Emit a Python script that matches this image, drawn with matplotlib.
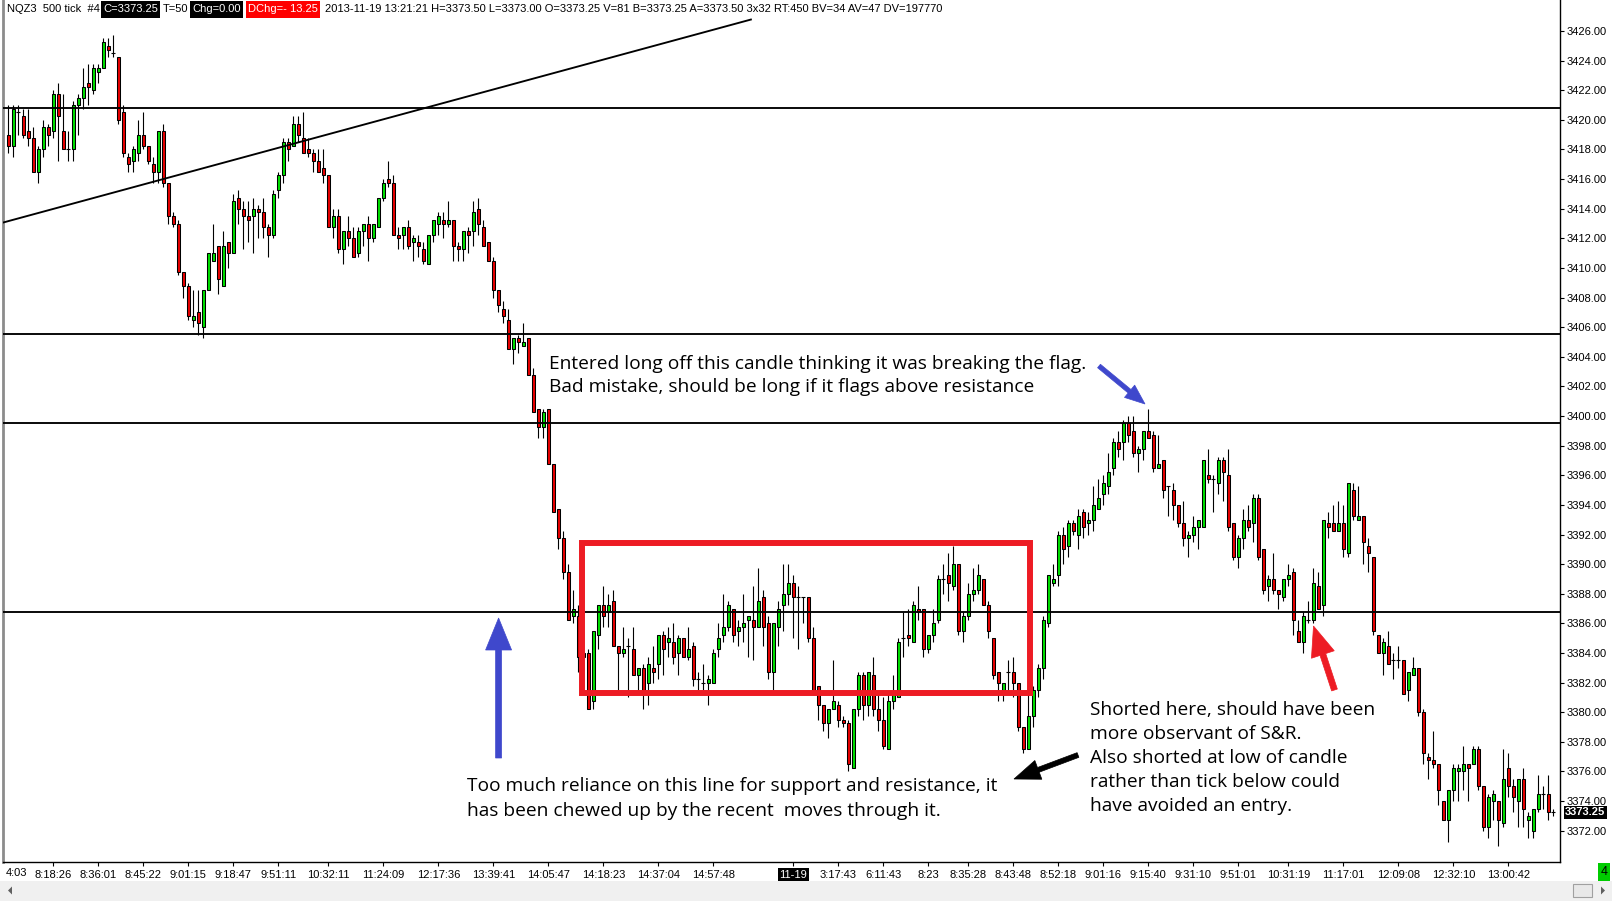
import numpy as np
import matplotlib
matplotlib.use("Agg")
import matplotlib.pyplot as plt
from matplotlib import patches, font_manager
from matplotlib.transforms import blended_transform_factory

W, H, DPI = 1612, 901, 100

opens = [
 3419.0, 3418.25, 3420.5, 3420.25, 3419.25, 3418.75, 3416.5, 3418.0, 3419.5, 3419.25,
 3421.75, 3419.25, 3418.0, 3418.0, 3421.0, 3421.5, 3422.5, 3422.0, 3423.25, 3423.5,
 3425.0, 3424.5, 3424.25, 3420.5, 3417.5, 3417.25, 3417.75, 3419.0, 3418.25, 3417.0,
 3416.5, 3419.25, 3415.75, 3413.5, 3413.0, 3409.75, 3408.75, 3406.5, 3407.0, 3406.0,
 3408.5, 3410.5, 3411.5, 3408.75, 3411.75, 3411.0, 3414.75, 3414.0, 3413.5, 3413.5,
 3414.0, 3413.75, 3412.75, 3412.25, 3415.25, 3416.25, 3418.5, 3418.25, 3419.75, 3418.75,
 3418.0, 3417.75, 3417.25, 3416.75, 3416.25, 3412.75, 3413.5, 3411.25, 3412.5, 3412.0,
 3411.0, 3412.5, 3413.0, 3412.0, 3412.75, 3414.75, 3416.0, 3415.75, 3412.25, 3412.25,
 3412.75, 3411.75, 3411.75, 3411.25, 3410.25, 3412.25, 3413.0, 3413.25, 3413.0, 3413.25,
 3411.5, 3411.25, 3412.5, 3412.5, 3414.0, 3412.75, 3411.75, 3410.5, 3408.5, 3407.25,
 3406.5, 3404.5, 3405.25, 3404.75, 3405.25, 3402.75, 3400.5, 3399.25, 3400.5, 3396.75,
 3393.75, 3391.75, 3389.5, 3386.5, 3386.5, 3383.75, 3384.0, 3380.75, 3385.25, 3387.25,
 3386.75, 3387.5, 3384.5, 3384.0, 3384.5, 3384.25, 3382.5, 3383.0, 3382.0, 3383.0,
 3383.25, 3385.25, 3384.75, 3384.75, 3384.0, 3385.0, 3383.75, 3384.5, 3382.25, 3382.0,
 3382.0, 3382.0, 3384.25, 3385.25, 3385.75, 3387.0, 3385.5, 3385.75, 3386.25, 3386.25,
 3385.75, 3387.75, 3386.0, 3382.75, 3385.75, 3387.25, 3388.0, 3388.75, 3387.75, 3387.75,
 3387.75, 3385.0, 3381.75, 3380.5, 3379.25, 3380.25, 3380.5, 3379.5, 3379.25, 3376.25,
 3380.25, 3382.5, 3380.5, 3382.5, 3380.25, 3379.5, 3377.5, 3380.75, 3381.0, 3385.0,
 3385.25, 3384.75, 3387.0, 3387.0, 3384.25, 3385.25, 3386.25, 3389.0, 3389.25, 3388.5,
 3390.0, 3385.5, 3386.5, 3388.0, 3388.25, 3389.0, 3387.25, 3385.0, 3382.75, 3381.5,
 3382.75, 3382.75, 3382.0, 3379.0, 3377.5, 3379.75, 3381.5, 3383.0, 3386.0, 3388.75,
 3389.25, 3392.0, 3391.25, 3392.75, 3392.0, 3393.5, 3392.75, 3393.0, 3393.75, 3394.75,
 3395.25, 3396.5, 3398.25, 3398.25, 3399.5, 3399.0, 3397.5, 3397.75, 3399.0, 3398.75,
 3396.5, 3397.0, 3395.25, 3395.0, 3394.0, 3392.75, 3391.75, 3392.0, 3392.5, 3392.5,
 3396.0, 3395.75, 3395.5, 3397.0, 3396.0, 3392.75, 3390.5, 3391.75, 3393.0, 3392.75,
 3394.5, 3391.0, 3388.5, 3389.0, 3388.25, 3387.75, 3389.0, 3389.5, 3385.5, 3384.75,
 3386.25, 3386.25, 3388.5, 3387.25, 3392.75, 3392.75, 3392.25, 3392.75, 3390.75, 3395.0,
 3393.0, 3393.25, 3391.25, 3390.5, 3385.25, 3384.0, 3384.5, 3383.5, 3383.5, 3383.5,
 3381.5, 3382.5, 3383.0, 3380.0, 3377.0, 3376.75, 3376.5, 3374.0, 3372.75, 3374.75,
 3376.0, 3376.0, 3376.5, 3376.5, 3377.5, 3375.0, 3372.25, 3374.0, 3374.0, 3372.5,
 3376.25, 3375.0, 3374.0, 3375.5, 3372.75, 3372.0, 3373.5, 3374.5, 3374.5, 3373.25]

highs = [
 3421.0, 3421.0, 3421.0, 3420.75, 3420.75, 3419.5, 3418.25, 3420.0, 3419.75, 3422.0,
 3422.5, 3421.75, 3419.25, 3421.25, 3421.75, 3423.5, 3423.75, 3423.75, 3423.75, 3425.5,
 3425.5, 3425.75, 3424.25, 3421.0, 3417.75, 3418.25, 3420.0, 3420.5, 3418.25, 3417.5,
 3419.25, 3419.75, 3415.75, 3413.75, 3413.25, 3409.75, 3409.0, 3408.5, 3408.5, 3408.5,
 3411.0, 3413.0, 3411.5, 3412.5, 3411.75, 3415.0, 3415.25, 3414.5, 3414.5, 3414.75,
 3414.25, 3414.75, 3413.0, 3415.25, 3416.5, 3418.75, 3418.75, 3420.25, 3420.25, 3420.5,
 3418.75, 3418.0, 3418.0, 3418.0, 3416.25, 3414.0, 3414.0, 3412.5, 3413.5, 3412.75,
 3412.75, 3413.0, 3413.5, 3413.0, 3414.75, 3416.0, 3417.25, 3416.25, 3412.75, 3412.75,
 3413.25, 3412.25, 3412.25, 3411.75, 3412.25, 3413.25, 3413.75, 3413.75, 3414.5, 3413.25,
 3411.75, 3412.5, 3412.75, 3414.5, 3414.75, 3413.25, 3411.75, 3410.75, 3408.5, 3407.75,
 3407.25, 3405.25, 3405.5, 3406.25, 3405.25, 3403.25, 3400.5, 3400.5, 3400.5, 3396.75,
 3393.75, 3392.25, 3390.0, 3388.25, 3387.25, 3384.25, 3384.25, 3385.5, 3387.25, 3388.5,
 3388.0, 3388.25, 3384.5, 3385.75, 3385.0, 3385.75, 3383.0, 3383.25, 3383.75, 3384.5,
 3385.25, 3385.5, 3385.75, 3386.0, 3385.25, 3385.0, 3385.75, 3384.75, 3382.75, 3383.25,
 3382.5, 3384.25, 3386.0, 3388.0, 3387.5, 3387.0, 3386.25, 3388.0, 3386.5, 3388.5,
 3389.75, 3388.25, 3386.5, 3386.0, 3387.5, 3390.0, 3390.0, 3389.25, 3388.5, 3387.75,
 3387.75, 3385.75, 3381.75, 3380.5, 3380.25, 3383.5, 3380.75, 3379.75, 3379.5, 3380.25,
 3382.75, 3382.75, 3382.75, 3383.75, 3381.25, 3381.0, 3381.25, 3382.5, 3385.0, 3386.75,
 3387.0, 3387.5, 3388.5, 3387.0, 3385.25, 3387.0, 3389.25, 3390.0, 3390.75, 3391.25,
 3390.0, 3386.75, 3388.75, 3389.75, 3390.0, 3389.0, 3387.5, 3385.0, 3382.75, 3382.0,
 3383.5, 3383.75, 3382.0, 3379.0, 3381.25, 3381.75, 3383.25, 3386.5, 3389.25, 3390.0,
 3392.25, 3392.5, 3393.0, 3393.0, 3393.75, 3393.75, 3393.5, 3395.25, 3395.75, 3396.0,
 3397.5, 3398.5, 3399.0, 3399.75, 3400.0, 3400.0, 3398.0, 3399.0, 3400.5, 3399.0,
 3398.75, 3397.0, 3395.25, 3395.5, 3394.0, 3394.25, 3392.25, 3393.25, 3393.0, 3397.0,
 3397.75, 3396.0, 3397.25, 3397.25, 3397.75, 3392.75, 3392.0, 3393.75, 3394.0, 3394.75,
 3394.75, 3391.0, 3389.25, 3390.75, 3388.25, 3389.0, 3390.0, 3389.75, 3386.25, 3386.75,
 3387.5, 3389.75, 3389.5, 3393.0, 3393.5, 3394.0, 3394.25, 3394.0, 3395.5, 3395.5,
 3395.25, 3393.25, 3391.75, 3390.5, 3385.25, 3385.0, 3385.5, 3384.0, 3384.5, 3383.5,
 3382.75, 3383.75, 3383.0, 3380.25, 3377.25, 3378.75, 3376.5, 3374.0, 3374.75, 3376.5,
 3376.5, 3377.75, 3376.5, 3377.75, 3377.75, 3375.0, 3374.5, 3374.75, 3374.0, 3377.5,
 3377.25, 3375.5, 3375.5, 3376.25, 3373.25, 3373.5, 3375.75, 3375.0, 3375.75, 3373.5]

lows = [
 3417.75, 3417.5, 3419.0, 3418.75, 3418.25, 3416.5, 3415.75, 3417.5, 3418.25, 3418.75,
 3417.25, 3418.0, 3417.25, 3417.25, 3419.0, 3420.75, 3421.0, 3421.75, 3422.5, 3423.5,
 3424.25, 3424.25, 3419.75, 3417.5, 3416.5, 3416.5, 3417.25, 3418.0, 3417.0, 3415.75,
 3415.75, 3415.5, 3413.0, 3412.75, 3409.5, 3408.0, 3406.5, 3406.0, 3405.5, 3405.25,
 3408.5, 3410.5, 3408.25, 3408.75, 3410.0, 3411.0, 3413.0, 3411.25, 3411.75, 3411.0,
 3412.0, 3412.0, 3410.75, 3412.0, 3414.75, 3415.75, 3417.25, 3418.25, 3418.5, 3417.75,
 3417.5, 3416.5, 3416.5, 3415.75, 3412.75, 3412.0, 3411.0, 3410.25, 3411.5, 3410.75,
 3410.75, 3411.5, 3410.5, 3411.75, 3412.75, 3414.5, 3415.5, 3412.25, 3411.25, 3411.25,
 3411.25, 3410.5, 3410.75, 3410.25, 3410.25, 3411.75, 3412.25, 3412.0, 3412.75, 3410.5,
 3410.5, 3410.5, 3411.0, 3411.5, 3412.25, 3411.5, 3410.5, 3408.0, 3407.0, 3406.25,
 3404.5, 3403.5, 3404.25, 3404.75, 3402.75, 3400.25, 3398.5, 3398.5, 3396.75, 3393.5,
 3391.0, 3389.0, 3386.25, 3386.0, 3382.75, 3382.75, 3380.25, 3380.25, 3384.25, 3385.75,
 3385.75, 3384.5, 3381.5, 3383.75, 3381.0, 3382.5, 3381.5, 3380.25, 3380.5, 3382.0,
 3382.25, 3382.5, 3383.75, 3383.25, 3382.5, 3383.75, 3383.5, 3381.75, 3381.5, 3381.5,
 3380.5, 3382.0, 3383.75, 3384.75, 3385.5, 3384.75, 3384.5, 3384.75, 3383.75, 3383.5,
 3385.75, 3384.5, 3382.25, 3381.5, 3384.5, 3385.5, 3387.25, 3385.0, 3384.25, 3386.0,
 3384.75, 3381.5, 3379.5, 3378.75, 3378.25, 3380.25, 3379.0, 3379.0, 3376.0, 3376.25,
 3379.75, 3379.5, 3379.75, 3379.75, 3378.75, 3377.5, 3377.5, 3380.25, 3381.0, 3383.75,
 3384.5, 3384.75, 3386.25, 3383.75, 3384.0, 3384.75, 3386.0, 3388.0, 3387.5, 3388.25,
 3385.25, 3384.75, 3386.25, 3387.5, 3388.0, 3387.25, 3385.0, 3382.25, 3380.75, 3380.75,
 3381.25, 3381.0, 3378.75, 3377.25, 3377.5, 3379.0, 3381.0, 3382.25, 3385.75, 3388.5,
 3388.5, 3390.0, 3390.5, 3392.0, 3391.0, 3391.75, 3392.0, 3392.25, 3393.75, 3394.0,
 3394.75, 3396.0, 3397.25, 3397.0, 3398.25, 3397.25, 3396.25, 3397.0, 3398.5, 3396.25,
 3396.5, 3394.5, 3393.25, 3393.0, 3392.5, 3391.25, 3390.5, 3391.5, 3391.0, 3392.5,
 3395.5, 3393.5, 3394.75, 3394.25, 3392.25, 3390.25, 3389.75, 3391.0, 3392.25, 3391.5,
 3390.25, 3388.0, 3387.5, 3388.0, 3387.0, 3387.5, 3388.5, 3385.25, 3384.75, 3384.0,
 3386.0, 3386.0, 3387.0, 3386.5, 3391.75, 3392.25, 3392.25, 3390.5, 3390.5, 3393.0,
 3393.0, 3390.0, 3389.5, 3385.25, 3384.0, 3382.5, 3383.25, 3382.25, 3383.0, 3381.25,
 3380.75, 3382.5, 3379.75, 3376.5, 3375.5, 3376.25, 3373.75, 3372.75, 3371.25, 3374.0,
 3374.0, 3374.75, 3374.0, 3376.5, 3374.75, 3372.0, 3371.5, 3372.75, 3371.0, 3372.25,
 3374.25, 3373.25, 3372.25, 3372.25, 3371.5, 3371.5, 3373.25, 3373.5, 3372.75, 3373.0]

closes = [
 3418.25, 3420.75, 3420.5, 3419.0, 3418.75, 3416.5, 3418.0, 3419.5, 3419.0, 3421.75,
 3420.25, 3418.0, 3418.0, 3421.0, 3421.5, 3422.25, 3422.25, 3423.5, 3423.5, 3425.25,
 3424.75, 3424.5, 3420.0, 3417.75, 3417.0, 3418.0, 3419.0, 3418.25, 3417.25, 3416.5,
 3419.25, 3415.75, 3413.5, 3413.0, 3409.75, 3408.75, 3406.75, 3406.75, 3406.25, 3408.5,
 3411.0, 3411.0, 3409.25, 3411.5, 3411.0, 3414.5, 3414.0, 3413.5, 3413.25, 3414.0,
 3413.75, 3412.75, 3412.25, 3415.0, 3416.25, 3418.5, 3418.0, 3419.75, 3419.0, 3417.75,
 3417.75, 3417.25, 3416.5, 3416.25, 3412.75, 3413.5, 3411.25, 3412.5, 3412.0, 3410.75,
 3412.5, 3413.0, 3412.0, 3413.0, 3414.75, 3415.75, 3415.75, 3412.25, 3412.0, 3412.75,
 3411.5, 3412.0, 3411.5, 3410.5, 3412.25, 3413.25, 3413.5, 3413.0, 3413.25, 3411.5,
 3411.25, 3412.5, 3412.25, 3413.75, 3413.0, 3411.5, 3410.5, 3408.5, 3407.5, 3406.75,
 3404.5, 3405.25, 3405.0, 3405.0, 3402.75, 3400.25, 3399.25, 3400.25, 3396.75, 3393.5,
 3391.75, 3389.5, 3386.25, 3387.0, 3383.75, 3384.0, 3380.25, 3385.5, 3387.25, 3386.5,
 3387.25, 3384.5, 3384.0, 3384.25, 3384.5, 3382.5, 3383.0, 3381.5, 3383.25, 3382.75,
 3385.25, 3384.25, 3385.0, 3383.75, 3385.0, 3383.75, 3384.25, 3382.25, 3382.25, 3382.0,
 3382.25, 3384.0, 3385.0, 3385.75, 3387.25, 3385.25, 3385.75, 3386.0, 3386.5, 3385.75,
 3387.5, 3385.75, 3382.75, 3386.0, 3387.0, 3388.0, 3388.75, 3387.75, 3387.75, 3387.75,
 3385.0, 3381.5, 3380.5, 3379.25, 3380.25, 3380.75, 3379.5, 3379.25, 3376.5, 3380.25,
 3382.5, 3380.5, 3382.75, 3380.25, 3379.5, 3377.75, 3380.75, 3381.25, 3384.75, 3385.0,
 3385.0, 3387.25, 3386.75, 3384.25, 3385.25, 3386.0, 3389.0, 3389.0, 3388.75, 3390.0,
 3385.5, 3386.5, 3388.0, 3388.25, 3389.25, 3387.25, 3385.5, 3382.5, 3382.0, 3382.0,
 3382.75, 3382.0, 3379.0, 3377.5, 3379.75, 3381.5, 3383.0, 3386.25, 3389.25, 3389.0,
 3392.0, 3391.0, 3392.75, 3392.25, 3393.25, 3392.5, 3393.0, 3394.0, 3394.5, 3395.5,
 3396.25, 3398.25, 3397.75, 3399.5, 3398.75, 3397.5, 3397.75, 3399.0, 3398.5, 3396.5,
 3396.75, 3395.0, 3395.25, 3394.0, 3392.75, 3391.75, 3392.0, 3392.5, 3393.0, 3397.0,
 3395.75, 3395.75, 3397.0, 3396.25, 3392.5, 3390.5, 3391.75, 3393.0, 3392.5, 3394.5,
 3390.5, 3388.25, 3389.0, 3388.25, 3388.0, 3389.0, 3389.25, 3386.25, 3384.75, 3386.5,
 3386.25, 3388.75, 3387.0, 3393.0, 3392.5, 3392.25, 3392.75, 3391.0, 3395.5, 3393.25,
 3393.25, 3391.5, 3390.75, 3385.5, 3384.0, 3384.75, 3383.25, 3383.5, 3383.5, 3381.25,
 3382.75, 3383.0, 3380.0, 3377.25, 3376.75, 3376.5, 3374.75, 3372.75, 3374.75, 3376.25,
 3376.25, 3376.5, 3376.25, 3377.5, 3375.0, 3372.25, 3374.25, 3374.5, 3372.75, 3375.5,
 3375.0, 3374.25, 3375.5, 3373.5, 3373.0, 3373.5, 3374.5, 3374.5, 3373.25, 3373.25]

sr_levels = [3420.83, 3405.54, 3399.56, 3386.80]
trend_x = [-1.12, 148.7]
trend_p = [3413.06, 3426.79]
box_x = [114.74, 204.34]
box_p = [3381.33, 3391.40]

price_ticks = list(range(3372, 3427, 2))
last_price = 3373.25
first_time_label = "4:03"
time_tick_pos = [9, 18, 27, 36, 45, 54, 64, 75, 86, 97, 108, 119, 130, 141, 157,
                 166, 175, 184, 192, 201, 210, 219, 228, 237, 246, 256, 267, 278, 289, 300]
time_tick_labels = ["8:18:26", "8:36:01", "8:45:22", "9:01:15", "9:18:47", "9:51:11",
                    "10:32:11", "11:24:09", "12:17:36", "13:39:41", "14:05:47", "14:18:23",
                    "14:37:04", "14:57:48", "11-19", "3:17:43", "6:11:43", "8:23", "8:35:28",
                    "8:43:48", "8:52:18", "9:01:16", "9:15:40", "9:31:10", "9:51:01",
                    "10:31:19", "11:17:01", "12:09:08", "12:32:10", "13:00:42"]

notes = [
    ["Entered long off this candle thinking it was breaking the flag.",
     "Bad mistake, should be long if it flags above resistance"],
    ["Too much reliance on this line for support and resistance, it",
     "has been chewed up by the recent  moves through it."],
    ["Shorted here, should have been", "more observant of S&R.",
     "Also shorted at low of candle", "rather than tick below could",
     "have avoided an entry."],
]

# header segments: (text, background or None, text colour, gap after in px)
header_segments = [
    ("NQZ3  500 tick  #4", None, "black", 1),
    ("C=3373.25", "black", "white", 3),
    ("T=50", None, "black", 2),
    ("Chg=0.00", "black", "white", 3),
    ("DChg=- 13.25", "#FF0000", "white", 5),
    ("2013-11-19 13:21:21 H=3373.50 L=3373.00 O=3373.25 V=81 B=3373.25 "
     "A=3373.50 3x32 RT:450 BV=34 AV=47 DV=197770", None, "black", 0),
]

GREEN = "#00E000"
RED = "#E80000"
BOXRED = "#ED1C24"
BLUE = "#3F48CC"

avail = {f.name for f in font_manager.fontManager.ttflist}
if "Liberation Sans Narrow" in avail:
    NARROW = "Liberation Sans Narrow"
elif "Liberation Sans" in avail:
    NARROW = "Liberation Sans"
else:
    NARROW = "DejaVu Sans"
NOTEFONT = "Open Sans" if "Open Sans" in avail else "DejaVu Sans"

fig = plt.figure(figsize=(W / DPI, H / DPI), dpi=DPI, facecolor="white")
rend = fig.canvas.get_renderer()


def text_width(s, size, family):
    t = fig.text(0, 0, s, fontfamily=family, fontsize=size)
    w = t.get_window_extent(renderer=rend).width
    t.remove()
    return w


# fit the small UI font so that the header spans 7..944 px as in the reference
BOXPAD = 2
base = 8.0
total = 0
for s, bg, col, gap in header_segments:
    total += text_width(s, base, NARROW) + (2 * BOXPAD if bg else 0) + gap
NSIZE = min(8.6, base * (944 - 7 - 20) / (total - 20))


def fx(px):
    return px / W


def fy(py):
    return 1 - py / H


ax_left, ax_right, ax_top, ax_bot = 3, 1560, 0, 862
ax = fig.add_axes([fx(ax_left), fy(ax_bot), fx(ax_right - ax_left), (ax_bot - ax_top) / H])
ax.set_facecolor("white")

ppp = 14.81
ytop = 3426 + (31 - ax_top) / ppp
ybot = 3426 - (ax_bot - 31) / ppp
ax.set_ylim(ybot, ytop)
ax.set_xlim((ax_left - 8.3) / 5, (ax_right - 8.3) / 5)

o = np.array(opens); h = np.array(highs); l = np.array(lows); c = np.array(closes)
x = np.arange(len(o))
up = c > o
dn = c < o
dj = c == o

ax.vlines(x, l, h, color="black", lw=0.8, zorder=2)
ax.bar(x[up], (c - o)[up], bottom=o[up], width=0.6, color=GREEN, edgecolor="black",
       linewidth=0.75, zorder=3)
ax.bar(x[dn], (o - c)[dn], bottom=c[dn], width=0.6, color=RED, edgecolor="black",
       linewidth=0.75, zorder=3)
ax.hlines(o[dj], x[dj] - 0.42, x[dj] + 0.42, color="black", lw=0.8, zorder=3)

for lev in sr_levels:
    ax.axhline(lev, color="black", lw=1.35, zorder=4)
ax.plot(trend_x, trend_p, color="black", lw=1.35, zorder=4, solid_capstyle="butt")

ax.add_patch(patches.Rectangle((box_x[0], box_p[0]), box_x[1] - box_x[0], box_p[1] - box_p[0],
                               fill=False, edgecolor=BOXRED, lw=4.3, zorder=6,
                               joinstyle="miter"))

ax.spines["top"].set_visible(False)
ax.spines["left"].set_color("#8C8C8C")
ax.spines["left"].set_linewidth(2.0)
ax.spines["right"].set_color("black")
ax.spines["right"].set_linewidth(1.0)
ax.spines["bottom"].set_color("black")
ax.spines["bottom"].set_linewidth(1.0)

ax.yaxis.tick_right()
ax.set_yticks(price_ticks)
ax.set_yticklabels([f"{p:.2f}" for p in price_ticks], fontfamily=NARROW, fontsize=NSIZE)
ax.tick_params(axis="y", direction="out", length=3, width=0.8, pad=2, colors="black")

ax.set_xticks(time_tick_pos)
ax.set_xticklabels(time_tick_labels, fontfamily=NARROW, fontsize=NSIZE)
ax.tick_params(axis="x", direction="out", length=3, width=0.8, pad=2.5, colors="black")
for lab in ax.get_xticklabels():
    if lab.get_text() == "11-19":
        lab.set_color("white")
        lab.set_bbox(dict(facecolor="black", edgecolor="none", pad=1.0))

tr = blended_transform_factory(ax.transAxes, ax.transData)
ax.text(1.0 + 5 / (ax_right - ax_left), last_price, f"{last_price:.2f}", transform=tr,
        ha="left", va="center", color="white", fontfamily=NARROW, fontsize=NSIZE,
        fontweight="bold", bbox=dict(facecolor="black", edgecolor="none", pad=1.0),
        zorder=10, clip_on=False)

# overlay in pixel coordinates
ov = fig.add_axes([0, 0, 1, 1], zorder=20)
ov.set_xlim(0, W)
ov.set_ylim(H, 0)
ov.axis("off")
ov.patch.set_alpha(0)

ov.text(6, 873, first_time_label, ha="left", va="center", fontfamily=NARROW, fontsize=NSIZE)

# scrollbar
ov.add_patch(patches.Rectangle((0, 881), W, 20, facecolor="#F0F0F0", edgecolor="none"))
ov.add_patch(patches.Rectangle((1573, 884), 19, 13, facecolor="#E8E8E8", edgecolor="#A0A0A0", lw=0.8))
ov.add_patch(patches.Polygon([[12, 886.5], [12, 894.5], [8, 890.5]], closed=True,
                             facecolor="#606060", edgecolor="none"))
ov.add_patch(patches.Polygon([[1601, 886.5], [1601, 894.5], [1605, 890.5]], closed=True,
                             facecolor="#606060", edgecolor="none"))
ov.text(1604, 872, "4", ha="center", va="center", fontfamily=NARROW, fontsize=NSIZE + 1,
        color="black", bbox=dict(facecolor="#00CC00", edgecolor="none", pad=1.8))

# header laid out left to right
hy = 9.5
cx = 7
for s, bg, col, gap in header_segments:
    w = text_width(s, NSIZE, NARROW)
    if bg:
        ov.add_patch(patches.Rectangle((cx, 1), w + 2 * BOXPAD, 17, facecolor=bg, edgecolor="none"))
        ov.text(cx + BOXPAD, hy, s, color=col, va="center", ha="left", fontfamily=NARROW,
                fontsize=NSIZE)
        cx += w + 2 * BOXPAD + gap
    else:
        ov.text(cx, hy, s, color=col, va="center", ha="left", fontfamily=NARROW, fontsize=NSIZE)
        cx += w + gap

# annotation texts (font fitted to the reference width of the first line)
note_size = 14 * 538.6 / text_width(notes[0][0], 14, NOTEFONT)

note_pos = [(549, 364, 23.5), (467, 786, 24.5), (1090, 710, 24.0)]
for lines, (nx, ny, dy) in zip(notes, note_pos):
    for i, s in enumerate(lines):
        ov.text(nx, ny + i * dy, s, ha="left", va="center", fontfamily=NOTEFONT,
                fontsize=note_size, color="black")


def arrow(x0, y0, x1, y1, color, width=6, hw=26, hl=32):
    ov.add_patch(patches.FancyArrow(x0, y0, x1 - x0, y1 - y0, width=width, head_width=hw,
                                    head_length=hl, length_includes_head=True,
                                    facecolor=color, edgecolor=color, lw=0.5))


arrow(498.6, 758, 498.6, 618, BLUE, width=6, hw=26, hl=32)
arrow(1099, 366, 1145, 404, BLUE, width=4.5, hw=16, hl=20)
arrow(1334.5, 690, 1313.5, 626, BOXRED, width=6, hw=24, hl=30)
arrow(1078, 755, 1014, 779, "black", width=5, hw=20, hl=26)

fig.savefig("out.png", dpi=DPI, facecolor="white")
